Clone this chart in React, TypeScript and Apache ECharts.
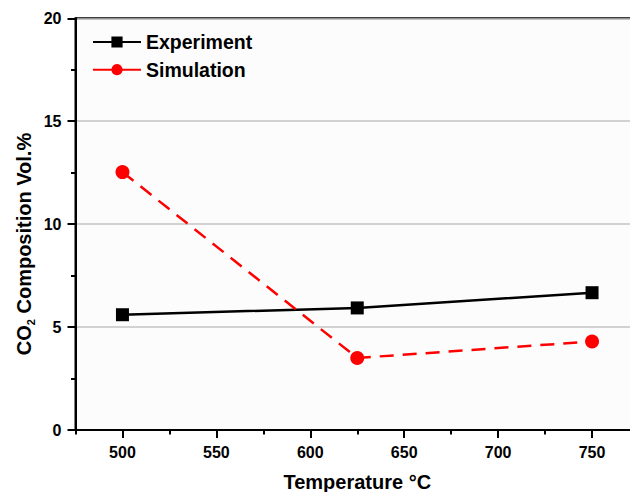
import React, { useEffect, useRef } from "react";
import * as echarts from "echarts";

const temperatures = [500, 625, 750];
const experiment = [5.6, 5.93, 6.67];
const simulation = [12.53, 3.5, 4.3];
const seriesNames = ["Experiment", "Simulation"];
const xTitle = "Temperature \u00B0C";

export default function App() {
  const ref = useRef<HTMLDivElement>(null);
  useEffect(() => {
    document.body.style.margin = "0";
    document.body.style.overflow = "hidden";
    document.documentElement.style.overflow = "hidden";
    if (!ref.current) return;
    const chart = echarts.init(ref.current, null, { renderer: "svg" });
    const font = "Liberation Sans, Arial, sans-serif";
    chart.setOption({
      animation: false,
      backgroundColor: "#ffffff",
      grid: {
        left: 75.5,
        top: 18.3,
        right: -9,
        bottom: 62,
        containLabel: false,
        outerBoundsMode: "none",
        show: true,
        backgroundColor: "#fcfcfc",
        borderColor: "#000",
        borderWidth: 2,
      },
      legend: {
        orient: "vertical",
        left: 92,
        top: 32,
        padding: 0,
        itemWidth: 48,
        itemHeight: 14,
        itemGap: 7.7,
        textStyle: { fontFamily: font, fontWeight: "bold", fontSize: 19.5, color: "#000" },
        data: [
          { name: seriesNames[0] },
          { name: seriesNames[1], lineStyle: { type: "solid" } },
        ],
      },
      xAxis: [
        {
          type: "value",
          min: 475,
          max: 775,
          splitNumber: 6,
          name: xTitle,
          nameLocation: "middle",
          nameGap: 42,
          nameTextStyle: { fontFamily: font, fontWeight: "bold", fontSize: 20, color: "#000" },
          axisLine: { show: true, lineStyle: { color: "#000", width: 2 } },
          axisTick: { show: true, inside: false, length: 8, lineStyle: { color: "#000", width: 2 } },
          axisLabel: {
            showMinLabel: false,
            showMaxLabel: false,
            margin: 14,
            fontFamily: font,
            fontWeight: "bold",
            fontSize: 16,
            color: "#000",
          },
          splitLine: { show: false },
        },
        {
          type: "value",
          min: 475,
          max: 775,
          interval: 50,
          position: "bottom",
          axisLine: { show: false },
          axisTick: { show: true, inside: false, length: 4.5, lineStyle: { color: "#000", width: 2 } },
          axisLabel: { show: false },
          splitLine: { show: false },
        },
      ],
      yAxis: {
        type: "value",
        min: 0,
        max: 20,
        interval: 5,
        axisLine: { show: true, lineStyle: { color: "#000", width: 2 } },
        axisTick: { show: true, inside: false, length: 8, lineStyle: { color: "#000", width: 2 } },
        minorTick: { show: true, splitNumber: 2, length: 4.5, lineStyle: { color: "#000", width: 2 } },
        axisLabel: {
          margin: 14,
          fontFamily: font,
          fontWeight: "bold",
          fontSize: 16,
          color: "#000",
        },
        splitLine: { show: true, lineStyle: { color: "#c4c4c4", width: 1.5 } },
      },
      graphic: [
        {
          type: "text",
          x: 24,
          y: 244,
          rotation: Math.PI / 2,
          style: {
            text: "{a|CO}{s|2}{a| Composition Vol.%}",
            align: "center",
            verticalAlign: "middle",
            rich: {
              a: { fontFamily: font, fontWeight: "bold", fontSize: 20, color: "#000", lineHeight: 24 },
              s: { fontFamily: font, fontWeight: "bold", fontSize: 11, color: "#000", lineHeight: 24, verticalAlign: "bottom", padding: [9, 0, 0, 0] },
            },
          },
        },
      ],
      series: [
        {
          name: seriesNames[0],
          type: "line",
          xAxisIndex: 0,
          data: temperatures.map((t, i) => [t, experiment[i]]),
          symbol: "rect",
          symbolSize: 13,
          lineStyle: { color: "#000", width: 2.5 },
          itemStyle: { color: "#000" },
          z: 3,
        },
        {
          name: seriesNames[1],
          type: "line",
          xAxisIndex: 0,
          data: temperatures.map((t, i) => [t, simulation[i]]),
          symbol: "circle",
          symbolSize: 14,
          lineStyle: { color: "#ff0000", width: 2.5, type: [14, 9] },
          itemStyle: { color: "#ff0000" },
          z: 4,
        },
      ],
    });
    return () => chart.dispose();
  }, []);
  return <div ref={ref} style={{ width: 630, height: 492, overflow: "hidden" }} />;
}
